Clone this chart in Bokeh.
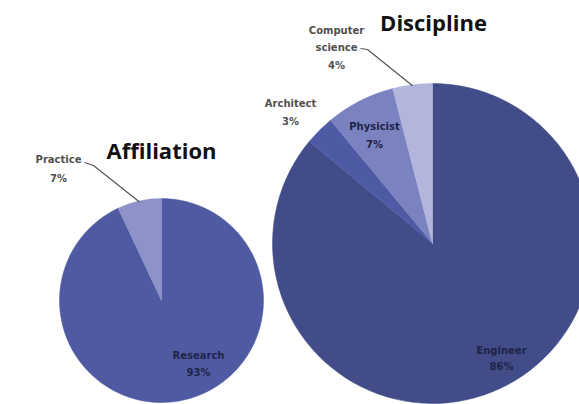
import numpy as np
from bokeh.plotting import figure
from bokeh.models import Range1d, ColumnDataSource
from bokeh.core.properties import value
from bokeh.embed import file_html
from bokeh.resources import INLINE

# ---- data ----
aff_categories = ["Research", "Practice"]
aff_values = [93, 7]
aff_colors = ["#4f5aa3", "#8d92c9"]

disc_categories = ["Engineer", "Architect", "Physicist", "Computer science"]
disc_values = [86, 3, 7, 4]
disc_colors = ["#414c88", "#4e5ba4", "#7b82c0", "#b3b6dc"]

W, H = 579, 404

# ---- layout (pixel coordinates, y measured from top) ----
AFF_CX, AFF_CY, AFF_R = 161, 300, 102
DISC_CX, DISC_CY, DISC_R = 432, 243, 160

p = figure(width=W, height=H, x_range=Range1d(0, W), y_range=Range1d(0, H),
           output_backend="svg", toolbar_location=None, min_border=0)
p.axis.visible = False
p.grid.visible = False
p.outline_line_color = None
p.background_fill_color = "white"
p.border_fill_color = "white"


def wedges(vals):
    v = np.asarray(vals, dtype=float)
    frac = v / v.sum()
    cum = np.concatenate([[0], np.cumsum(frac)])
    # clockwise from 12 o'clock
    start = np.pi / 2 - 2 * np.pi * cum[1:]
    end = np.pi / 2 - 2 * np.pi * cum[:-1]
    mid = 2 * np.pi * (cum[:-1] + cum[1:]) / 2  # clockwise from top
    return start, end, mid


def draw_pie(cx, cy, r, cats, vals, colors):
    s, e, mid = wedges(vals)
    src = ColumnDataSource(dict(x=[cx] * len(cats), y=[H - cy] * len(cats),
                                start=s, end=e, color=colors, cat=cats))
    p.wedge(x="x", y="y", radius=r, start_angle="start", end_angle="end",
            direction="anticlock", fill_color="color", line_color="color",
            line_width=0.5, source=src)
    return mid


aff_mid = draw_pie(AFF_CX, AFF_CY, AFF_R, aff_categories, aff_values, aff_colors)
disc_mid = draw_pie(DISC_CX, DISC_CY, DISC_R, disc_categories, disc_values, disc_colors)

FONT = "DejaVu Sans"
OUT_COLOR = "#505050"
IN_COLOR = "#1e2448"


def label(x, y, lines, color, size="10px", lh=17.5):
    n = len(lines)
    for i, t in enumerate(lines):
        yy = y - (n - 1) * lh / 2 + i * lh
        p.text(x=[x], y=[H - yy], text=[t], text_font=value(FONT),
               text_font_size=size, text_font_style="bold", text_color=color,
               text_align="center", text_baseline="middle")


def pct(v, vals):
    return f"{round(100 * v / sum(vals))}%"

# inside labels (offsets from pie centre)
label(AFF_CX + 37, AFF_CY + 63, [aff_categories[0], pct(aff_values[0], aff_values)], IN_COLOR, lh=17)
label(DISC_CX + 69, DISC_CY + 115, [disc_categories[0], pct(disc_values[0], disc_values)], IN_COLOR, lh=16)
label(DISC_CX - 58, DISC_CY - 108, [disc_categories[2], pct(disc_values[2], disc_values)], IN_COLOR, lh=18)

# outside labels
label(DISC_CX - 142, DISC_CY - 131, [disc_categories[1], pct(disc_values[1], disc_values)], OUT_COLOR, lh=18)
label(DISC_CX - 96, DISC_CY - 196, ["Computer", "science", pct(disc_values[3], disc_values)], OUT_COLOR)
label(AFF_CX - 103, AFF_CY - 132, [aff_categories[1], pct(aff_values[1], aff_values)], OUT_COLOR, lh=19)

# leader lines to slice edges
def leader(x0, y0, x1, y1, cx, cy, r, ang):
    ex = cx + r * np.sin(ang)
    ey = cy - r * np.cos(ang)
    p.line(x=[x0, x1, ex], y=[H - y0, H - y1, H - ey], line_color="#555555", line_width=1.2)

leader(84, 162, 93, 165, AFF_CX, AFF_CY, AFF_R - 1, aff_mid[1])
leader(360, 48, 367, 49, DISC_CX, DISC_CY, DISC_R - 1, disc_mid[3])

# titles
p.text(x=[AFF_CX], y=[H - 149], text=["Affiliation"], text_font=value("Open Sans"),
       text_font_size="22px", text_font_style="bold", text_color="#111111",
       text_align="center", text_baseline="middle")
p.text(x=[DISC_CX + 1], y=[H - 21], text=["Discipline"], text_font=value("Open Sans"),
       text_font_size="22px", text_font_style="bold", text_color="#111111",
       text_align="center", text_baseline="middle")

open("out.html", "w").write(file_html(p, INLINE))
